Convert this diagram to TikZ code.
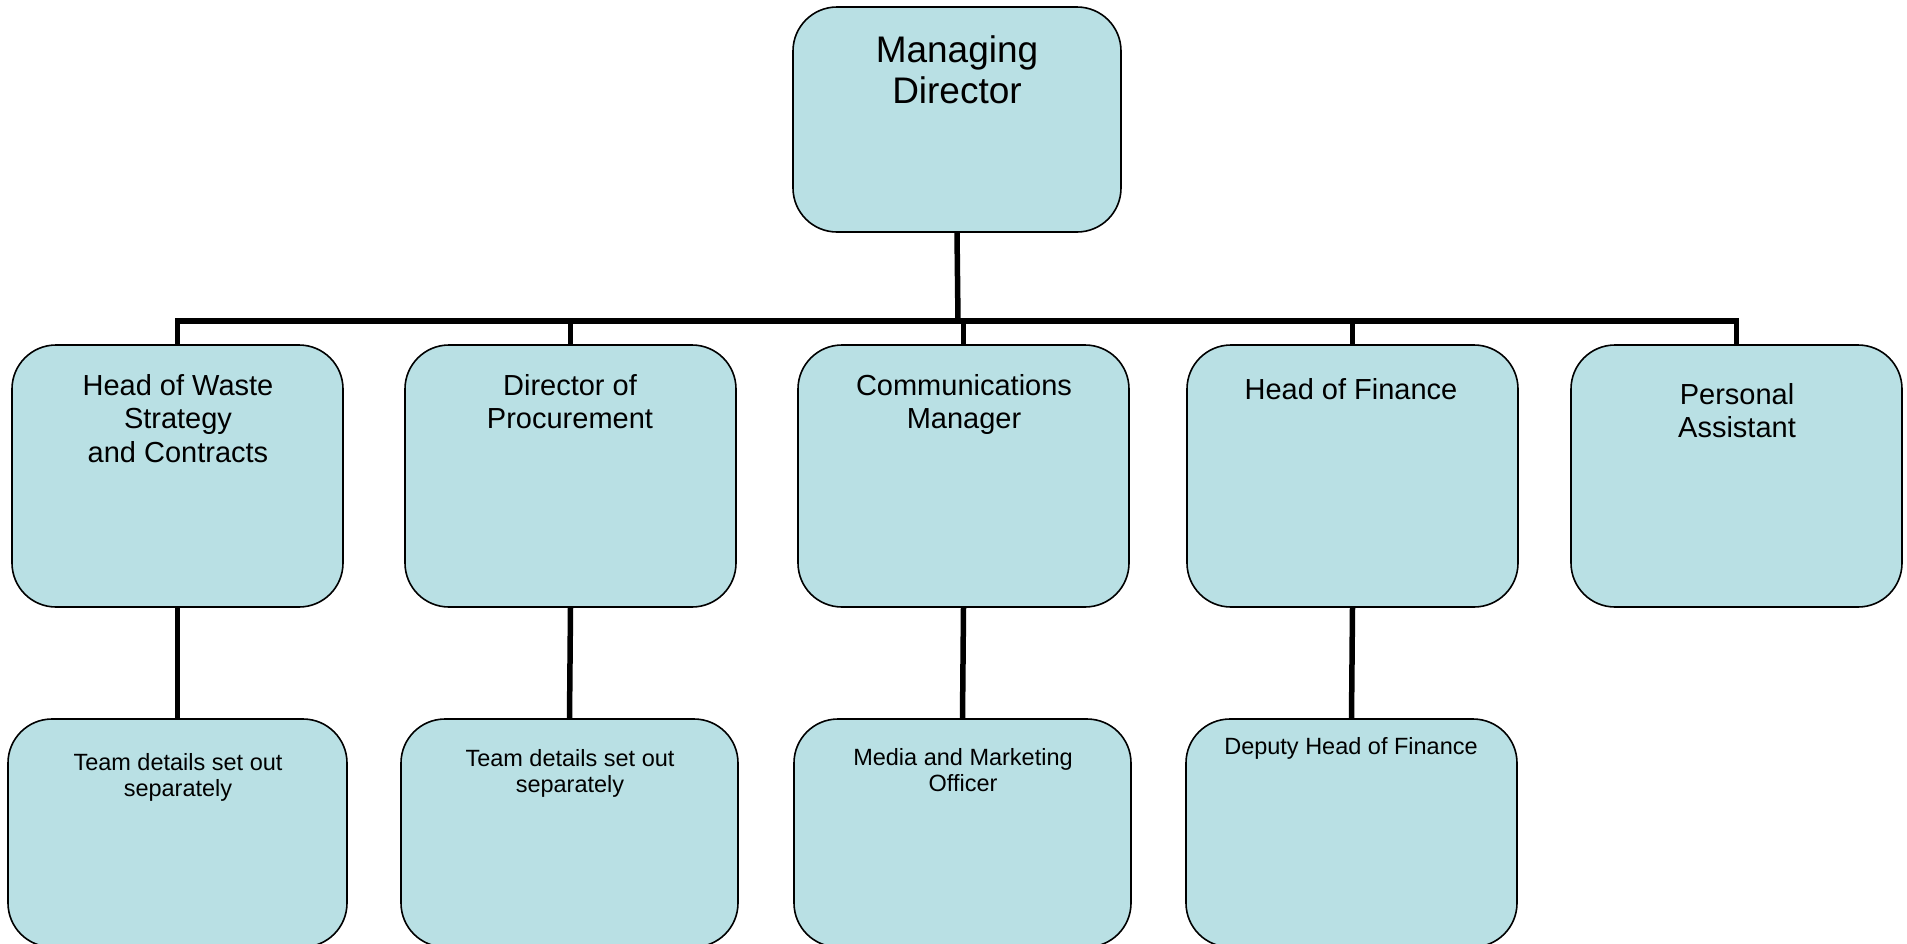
\documentclass[tikz,border=0pt]{standalone}
\usepackage{fontspec}
\setmainfont{Liberation Sans}
\definecolor{boxfill}{RGB}{185,224,228}
\begin{document}
\begin{tikzpicture}[x=1pt,y=-1pt,
  orgbox/.style={draw=black, line width=1.6pt, fill=boxfill, rounded corners=44pt, inner sep=0pt, minimum width=#1},
  orgbox/.default=331pt,
  bigtxt/.style={anchor=north, inner sep=0pt, align=center, font=\fontsize{37}{41}\selectfont},
  midtxt/.style={anchor=north, inner sep=0pt, align=center, font=\fontsize{29}{33.5}\selectfont},
  smalltxt/.style={anchor=north, inner sep=0pt, align=center, font=\fontsize{23.5}{26.5}\selectfont},
  conn/.style={draw=black, line width=5.5pt, line join=miter}]
\useasboundingbox (0,0) rectangle (1907,943);
% level 1
\node[orgbox=328pt, minimum height=225pt] (md) at (957,119.5) {};
% level 2
\node[orgbox, minimum height=262pt] (wst) at (177.5,476) {};
\node[orgbox, minimum height=262pt] (dp)  at (570.5,476) {};
\node[orgbox, minimum height=262pt] (cm)  at (963.5,476) {};
\node[orgbox, minimum height=262pt] (hf)  at (1352.5,476) {};
\node[orgbox, minimum height=262pt] (pa)  at (1736.5,476) {};
% level 3
\node[orgbox=339pt, minimum height=228pt] (t1) at (177.5,833) {};
\node[orgbox=337pt, minimum height=228pt] (t2) at (569.5,833) {};
\node[orgbox=337pt, minimum height=228pt] (mm) at (962.5,833) {};
\node[orgbox=331pt, minimum height=228pt] (dh) at (1351.5,833) {};
% texts
\node[bigtxt] (mdt) at (957,35) {Managing\\Director};
\node[midtxt] (wstt) at (178,374) {Head of Waste\\Strategy\\ and Contracts};
\node[midtxt] (dpt) at (570,374) {Director of\\Procurement};
\node[midtxt] (cmt) at (964,374) {Communications\\Manager};
\node[midtxt] (hft) at (1351,378) {Head of Finance};
\node[midtxt] (pat) at (1737,383) {Personal\\Assistant};
\node[smalltxt] (t1t) at (178,753) {Team details set out\\separately};
\node[smalltxt] (t2t) at (570,749) {Team details set out\\separately};
\node[smalltxt] (mmt) at (963,748) {Media and Marketing\\Officer};
\node[smalltxt] (dht) at (1351,737) {Deputy Head of Finance};
% connectors
\coordinate (bar) at (958,321);
\draw[conn] (md.south) -- (bar);
\draw[conn] (wst.north) |- (bar) -| (pa.north);
\draw[conn] (dp.north) -- (dp.north |- bar);
\draw[conn] (cm.north) -- (cm.north |- bar);
\draw[conn] (hf.north) -- (hf.north |- bar);
\draw[conn] (wst.south) -- (t1.north);
\draw[conn] (dp.south) -- (t2.north);
\draw[conn] (cm.south) -- (mm.north);
\draw[conn] (hf.south) -- (dh.north);
\end{tikzpicture}
\end{document}
